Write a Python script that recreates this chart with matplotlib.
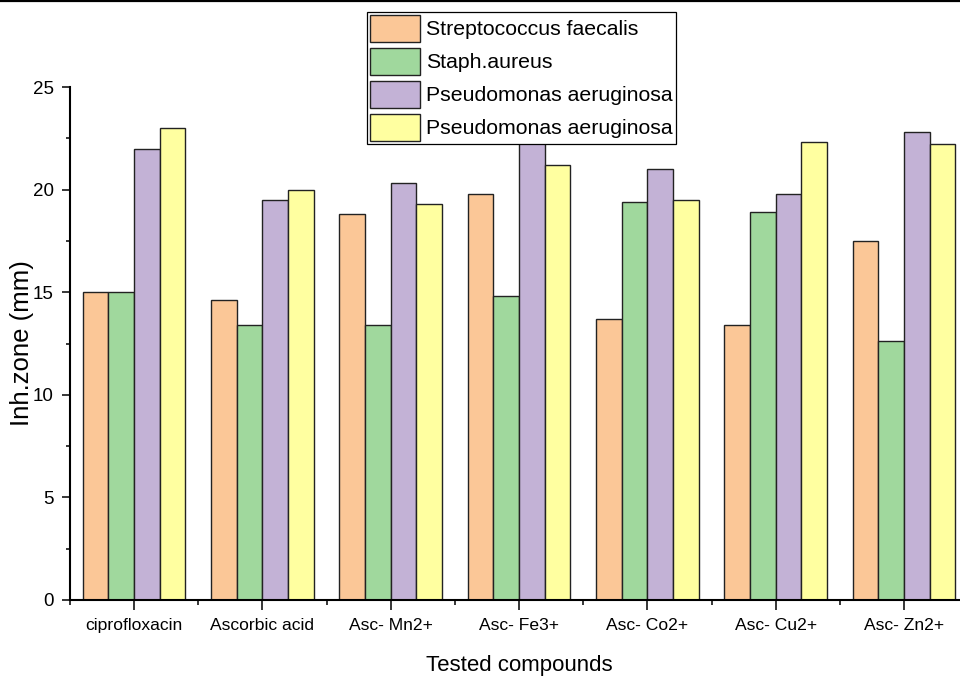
import numpy as np
import matplotlib
matplotlib.use("Agg")
import matplotlib.pyplot as plt
from matplotlib import font_manager
from matplotlib.lines import Line2D
from matplotlib.ticker import FixedLocator, MultipleLocator

categories = ["ciprofloxacin", "Ascorbic acid", "Asc- Mn2+", "Asc- Fe3+",
              "Asc- Co2+", "Asc- Cu2+", "Asc- Zn2+"]
series_names = ["Streptococcus faecalis", "Staph.aureus",
                "Pseudomonas aeruginosa", "Pseudomonas aeruginosa"]
strep = [15.0, 14.6, 18.8, 19.8, 13.7, 13.4, 17.5]
staph = [15.0, 13.4, 13.4, 14.8, 19.4, 18.9, 12.6]
pseudo1 = [22.0, 19.5, 20.3, 22.8, 21.0, 19.8, 22.8]
pseudo2 = [23.0, 20.0, 19.3, 21.2, 19.5, 22.3, 22.2]
colors = ["#FBC797", "#A0D89D", "#C3B2D6", "#FFFFA0"]

regular = "Liberation Sans"

fig = plt.figure(figsize=(9.6, 6.78), dpi=100)
W, H = 960, 678
left_px, right_px, top_px, bot_px = 70, 968.3, 87, 600
ax = fig.add_axes([left_px / W, 1 - bot_px / H, (right_px - left_px) / W,
                   (bot_px - top_px) / H])

x = np.arange(len(categories))
width = 0.2
all_series = [strep, staph, pseudo1, pseudo2]
for i, (vals, name, c) in enumerate(zip(all_series, series_names, colors)):
    ax.bar(x + (i - 1.5) * width, vals, width, color=c, edgecolor="#222222",
           linewidth=1.0, label=name, zorder=2)

ax.set_xlim(-0.5, len(categories) - 0.5)
ax.set_ylim(0, 25)
ax.spines["top"].set_visible(False)
ax.spines["right"].set_visible(False)
ax.spines["left"].set_linewidth(1.5)
ax.spines["bottom"].set_linewidth(1.5)

ax.set_xticks(x)
ax.set_xticklabels(categories, fontfamily=regular, fontsize=12.6)
ax.xaxis.set_minor_locator(FixedLocator(np.arange(-0.5, len(categories), 1.0)))
ax.yaxis.set_major_locator(MultipleLocator(5))
ax.yaxis.set_minor_locator(FixedLocator([2.5, 7.5, 12.5, 17.5, 22.5]))
for lab in ax.get_yticklabels():
    lab.set_fontfamily(regular)
    lab.set_fontsize(13.5)
ax.tick_params(axis="x", which="major", direction="out", length=7.2, width=1.1, pad=6)
ax.tick_params(axis="x", which="minor", direction="out", length=3.6, width=1.1)
ax.tick_params(axis="y", which="major", direction="out", length=5.8, width=1.1, pad=6)
ax.tick_params(axis="y", which="minor", direction="out", length=2.9, width=1.1)

ax.set_xlabel("Tested compounds", fontfamily=regular, fontsize=16)
ax.xaxis.label.set_va("center")
ax.xaxis.set_label_coords(0.5, (bot_px - 665) / (bot_px - top_px))
ax.set_ylabel("Inh.zone (mm)", fontfamily=regular, fontsize=18.5)
ax.yaxis.label.set_va("center")
ax.yaxis.set_label_coords((22 - left_px) / (right_px - left_px), 0.5)

leg = ax.legend(loc="upper left", bbox_to_anchor=(367 / W, 1 - 12 / H),
                bbox_transform=fig.transFigure,
                prop={"family": regular, "size": 15.3},
                frameon=True, fancybox=False, shadow=False, framealpha=1,
                edgecolor="black", borderpad=0.15, labelspacing=0.3,
                handlelength=2.35, handleheight=1.55, handletextpad=0.3,
                borderaxespad=0)
leg.get_frame().set_linewidth(0.9)

fig.add_artist(Line2D([0, 1], [1 - 1 / H, 1 - 1 / H], transform=fig.transFigure,
                      color="black", linewidth=1.6))

fig.savefig("out.png", dpi=100)
